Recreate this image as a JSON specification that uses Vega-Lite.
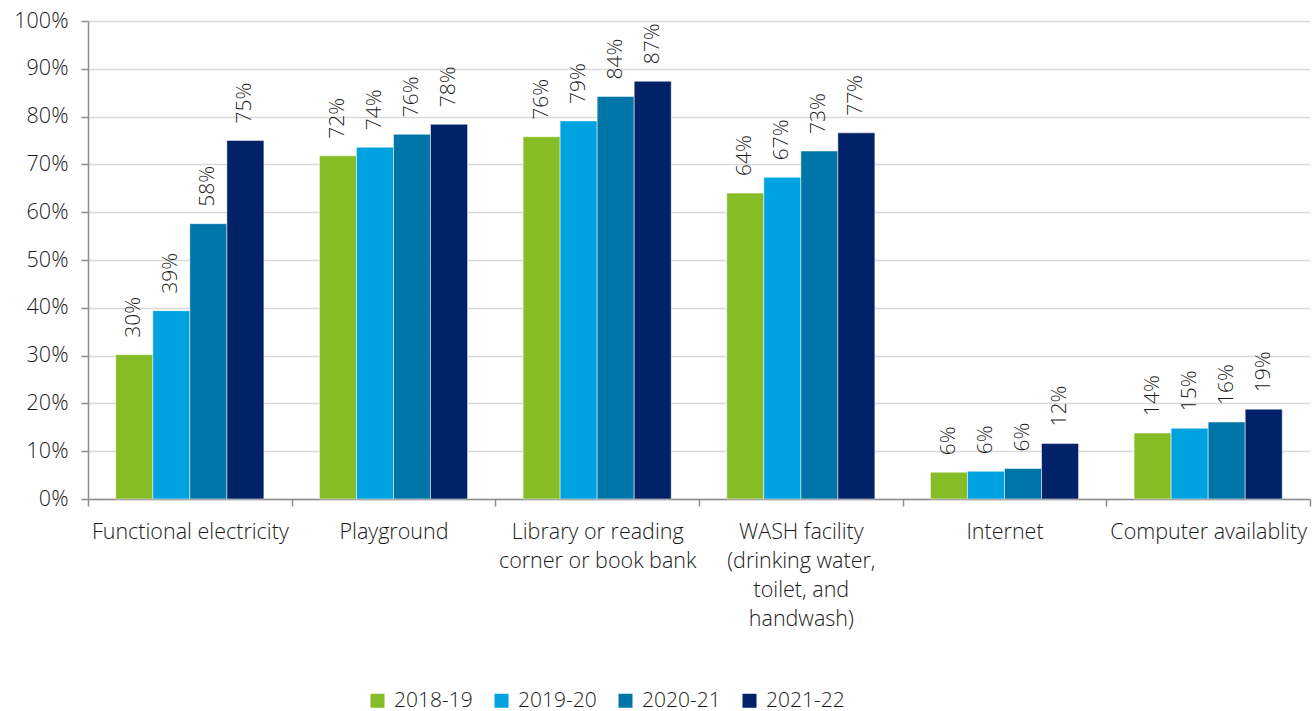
{
  "$schema": "https://vega.github.io/schema/vega-lite/v6.json",
  "width": 1222,
  "height": 478,
  "autosize": "none",
  "padding": {"left": 88, "top": 21, "right": 4, "bottom": 212},
  "background": "white",
  "config": {
    "view": {"stroke": null},
    "font": "Open Sans",
    "axis": {"labelFont": "Open Sans", "labelFontWeight": 300, "labelColor": "#1a1a1a"},
    "legend": {"labelFont": "Open Sans", "labelFontWeight": 300, "labelColor": "#1a1a1a"}
  },
  "data": {
    "values": [
      {"category": "Functional electricity", "year": "2018-19", "value": 0.302},
      {"category": "Functional electricity", "year": "2019-20", "value": 0.394},
      {"category": "Functional electricity", "year": "2020-21", "value": 0.576},
      {"category": "Functional electricity", "year": "2021-22", "value": 0.750},
      {"category": "Playground", "year": "2018-19", "value": 0.718},
      {"category": "Playground", "year": "2019-20", "value": 0.736},
      {"category": "Playground", "year": "2020-21", "value": 0.763},
      {"category": "Playground", "year": "2021-22", "value": 0.784},
      {"category": "Library or reading|corner or book bank", "year": "2018-19", "value": 0.758},
      {"category": "Library or reading|corner or book bank", "year": "2019-20", "value": 0.791},
      {"category": "Library or reading|corner or book bank", "year": "2020-21", "value": 0.842},
      {"category": "Library or reading|corner or book bank", "year": "2021-22", "value": 0.874},
      {"category": "WASH facility|(drinking water,|toilet, and|handwash)", "year": "2018-19", "value": 0.640},
      {"category": "WASH facility|(drinking water,|toilet, and|handwash)", "year": "2019-20", "value": 0.673},
      {"category": "WASH facility|(drinking water,|toilet, and|handwash)", "year": "2020-21", "value": 0.728},
      {"category": "WASH facility|(drinking water,|toilet, and|handwash)", "year": "2021-22", "value": 0.766},
      {"category": "Internet", "year": "2018-19", "value": 0.056},
      {"category": "Internet", "year": "2019-20", "value": 0.058},
      {"category": "Internet", "year": "2020-21", "value": 0.064},
      {"category": "Internet", "year": "2021-22", "value": 0.116},
      {"category": "Computer availablity", "year": "2018-19", "value": 0.138},
      {"category": "Computer availablity", "year": "2019-20", "value": 0.148},
      {"category": "Computer availablity", "year": "2020-21", "value": 0.161},
      {"category": "Computer availablity", "year": "2021-22", "value": 0.188}
    ]
  },
  "encoding": {
    "x": {
      "field": "category", "type": "nominal", "sort": null,
      "scale": {"paddingInner": 0, "paddingOuter": 0},
      "axis": {
        "title": null, "labelAngle": 0, "tickBand": "extent",
        "labelExpr": "split(datum.label, '|')",
        "labelFontSize": 21.5, "labelLineHeight": 29, "labelPadding": 15,
        "labelBaseline": "top", "labelLimit": 300,
        "domainColor": "#8c8c8c", "domainWidth": 1.5, "tickColor": "#8c8c8c", "tickWidth": 1.5, "tickSize": 7
      }
    },
    "xOffset": {"field": "year", "type": "nominal", "scale": {"paddingInner": 0, "paddingOuter": 0.75}},
    "y": {
      "field": "value", "type": "quantitative",
      "scale": {"domain": [0, 1], "nice": false},
      "axis": {
        "title": null, "format": ".0%", "values": [0, 0.1, 0.2, 0.3, 0.4, 0.5, 0.6, 0.7, 0.8, 0.9, 1],
        "labelOverlap": false,
        "labelFontSize": 21.5, "labelPadding": 13, "tickSize": 7,
        "domainColor": "#8c8c8c", "domainWidth": 1.5, "tickColor": "#8c8c8c", "tickWidth": 1.5,
        "gridColor": "#d9d9d9", "gridWidth": 1.5
      }
    }
  },
  "layer": [
    {
      "mark": {"type": "bar", "stroke": "white", "strokeWidth": 0.5},
      "encoding": {
        "color": {
          "field": "year", "type": "nominal",
          "scale": {"domain": ["2018-19", "2019-20", "2020-21", "2021-22"], "range": ["#86BC25", "#00A3E0", "#0076A8", "#012169"]},
          "legend": {
            "title": null, "orient": "none", "direction": "horizontal",
            "legendX": 279, "legendY": 669,
            "symbolType": "square", "symbolSize": 196, "symbolStrokeWidth": 0,
            "labelFontSize": 21, "labelOffset": 6, "columnPadding": 18
          }
        }
      }
    },
    {
      "mark": {"type": "text", "angle": 270, "align": "left", "baseline": "middle", "dx": 17, "fontSize": 21, "fontWeight": 300, "color": "#1a1a1a", "font": "Open Sans"},
      "encoding": {
        "text": {"field": "value", "type": "quantitative", "format": ".0%"}
      }
    }
  ]
}
